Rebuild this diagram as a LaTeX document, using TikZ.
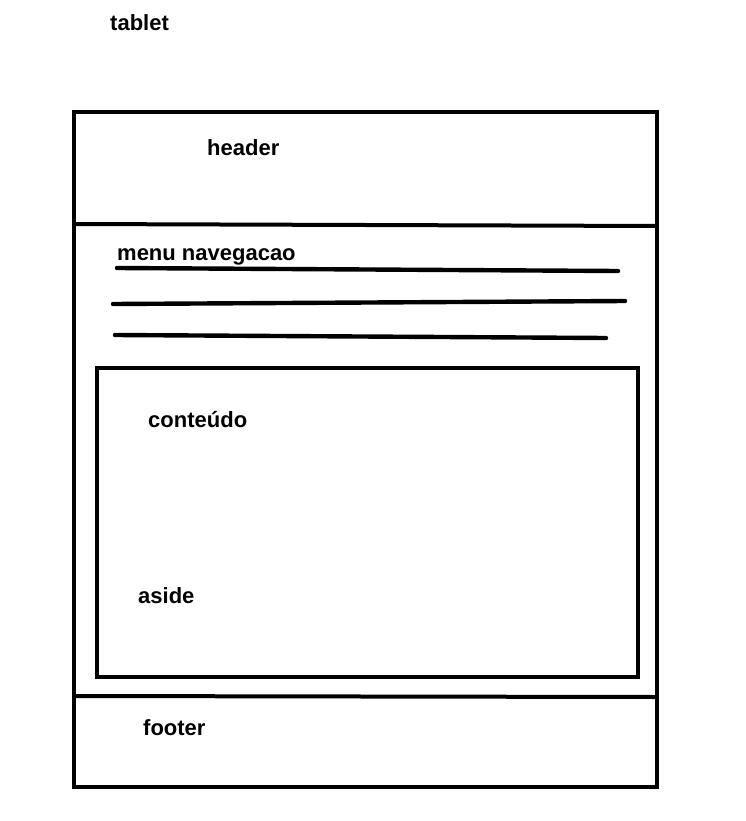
\documentclass[tikz,border=0pt]{standalone}
\usepackage{fontspec}
\setmainfont{Liberation Sans}
\begin{document}
\begin{tikzpicture}[
        x=1pt, y=-1pt,
        frame/.style={draw, line width=4pt},
        box/.style={draw, line width=3.6pt},
        rule/.style={draw, line width=4.4pt, line cap=round},
        label/.style={anchor=base west, inner sep=0pt, font=\bfseries\fontsize{22}{26}\selectfont},
    ]
    \useasboundingbox (0,0) rectangle (745,821);
    % page
    \draw[frame] (74,112) rectangle (657,787);
    \draw[frame] (74,224) -- (657,226);
    \draw[frame] (74,696) -- (657,697);
    % content box
    \draw[box] (97,368) rectangle (638,677);
    % menu lines
    \draw[rule] (117,268) -- (618,271);
    \draw[rule] (113,304) -- (625,301);
    \draw[rule] (115,335) -- (606,338);
    % labels
    \node[label](tablet) at (110,31){tablet};
    \node[label](header) at (207,156){header};
    \node[label](menu) at (117,260){menu navegacao};
    \node[label](conteudo) at (148,427){conteúdo};
    \node[label](aside) at (138,603){aside};
    \node[label](footer) at (143,735){footer};
\end{tikzpicture}
\end{document}
